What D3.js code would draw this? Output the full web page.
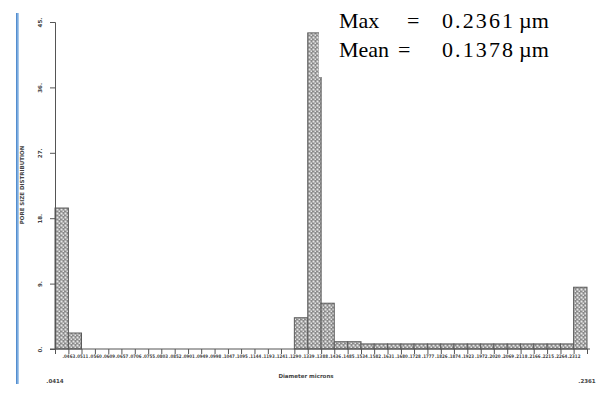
<!DOCTYPE html>
<html>
<head>
<meta charset="utf-8">
<script src="https://cdn.jsdelivr.net/npm/d3@7"></script>
<style>
  html, body { margin: 0; padding: 0; background: #fff; }
  svg { display: block; }
</style>
</head>
<body>
<div id="chart"></div>
<script>
// bin edges (microns) and counts
const binEdges = [0.0414, 0.0463, 0.0511, 0.0560, 0.0609, 0.0657, 0.0706, 0.0755, 0.0803, 0.0852,
  0.0901, 0.0949, 0.0998, 0.1047, 0.1095, 0.1144, 0.1193, 0.1241, 0.1290, 0.1339,
  0.1388, 0.1436, 0.1485, 0.1534, 0.1582, 0.1631, 0.1680, 0.1728, 0.1777, 0.1826,
  0.1874, 0.1923, 0.1972, 0.2020, 0.2069, 0.2118, 0.2166, 0.2215, 0.2264, 0.2312, 0.2361];
const counts = [19.4, 2.2, 0, 0, 0, 0, 0, 0, 0, 0,
  0, 0, 0, 0, 0, 0, 0, 0, 4.3, 43.5,
  6.3, 1.0, 1.0, 0.7, 0.7, 0.7, 0.7, 0.7, 0.7, 0.7,
  0.7, 0.7, 0.7, 0.7, 0.7, 0.7, 0.7, 0.7, 0.7, 8.5];
const yTicks = [0, 9, 18, 27, 36, 45];
const statLabels = ["Max", "Mean"];
const statNumbers = ["0.2361", "0.1378"];
const statUnit = "\u00b5m";

const width = 611, height = 394;
const svg = d3.select("#chart").append("svg")
  .attr("width", width)
  .attr("height", height);

const defs = svg.append("defs");
const pat = defs.append("pattern")
  .attr("id", "hatch")
  .attr("patternUnits", "userSpaceOnUse")
  .attr("width", 4)
  .attr("height", 4);
pat.append("rect").attr("width", 4).attr("height", 4).attr("fill", "#8a8a8a");
pat.append("rect").attr("x", 0.5).attr("y", 0.5).attr("width", 2).attr("height", 2).attr("fill", "#e6e6e6");
pat.append("rect").attr("x", 2.5).attr("y", 2.5).attr("width", 2).attr("height", 2).attr("fill", "#e6e6e6");

const blueGrad = defs.append("linearGradient").attr("id", "blue").attr("x1", 0).attr("x2", 1);
blueGrad.append("stop").attr("offset", "0%").attr("stop-color", "#3f7fc9");
blueGrad.append("stop").attr("offset", "100%").attr("stop-color", "#b9d6f2");

// left blue border
svg.append("rect")
  .attr("x", 16).attr("y", 13)
  .attr("width", 3).attr("height", 371)
  .attr("fill", "url(#blue)");

const x = d3.scaleLinear().domain([binEdges[0], binEdges[binEdges.length - 1]]).range([55, 587]);
const y = d3.scaleLinear().domain([0, 45]).range([349, 22]);
const fmt = d => d3.format(".4f")(d).replace(/^0/, "");

// bars
svg.append("g")
  .selectAll("rect")
  .data(counts.map((c, i) => ({ c, x0: binEdges[i], x1: binEdges[i + 1] })).filter(d => d.c > 0))
  .enter()
  .append("rect")
  .attr("x", d => x(d.x0))
  .attr("y", d => y(d.c))
  .attr("width", d => x(d.x1) - x(d.x0))
  .attr("height", d => y(0) - y(d.c))
  .attr("fill", "url(#hatch)")
  .attr("stroke", "#5a5a5a")
  .attr("stroke-width", 1);

// y axis
const yAxis = svg.append("g")
  .attr("transform", `translate(55,0)`)
  .call(d3.axisLeft(y).tickValues(yTicks).tickSize(5).tickFormat(d => d + "."));
yAxis.select(".domain").attr("stroke", "#555");
yAxis.selectAll(".tick line").attr("stroke", "#555");
yAxis.selectAll(".tick text")
  .attr("x", 0).attr("y", 0).attr("dy", 0)
  .attr("transform", "translate(-13,0) rotate(-90)")
  .attr("text-anchor", "middle")
  .attr("font-family", "DejaVu Sans")
  .attr("font-weight", "bold")
  .attr("font-size", 5.5)
  .attr("fill", "#444");

// x axis
const xAxis = svg.append("g")
  .attr("transform", `translate(0,349)`)
  .call(d3.axisBottom(x).tickValues(binEdges).tickSize(5)
    .tickSizeOuter(0)
    .tickFormat((d, i) => (i === 0 || i === binEdges.length - 1) ? "" : fmt(d)));
xAxis.select(".domain").attr("stroke", "#555").attr("d", `M${x.range()[0] - 5},0H${x.range()[1] + 3}`);
xAxis.selectAll(".tick line").attr("stroke", "#555");
xAxis.selectAll(".tick text")
  .attr("y", 6)
  .attr("font-family", "DejaVu Sans Condensed, DejaVu Sans")
  .attr("font-weight", "bold")
  .attr("font-size", 4.8)
  .attr("textLength", d => (d === binEdges[0] || d === binEdges[binEdges.length - 1]) ? null : 12.6)
  .attr("lengthAdjust", "spacingAndGlyphs")
  .attr("fill", "#444");

// end labels and axis titles
const small = { "font-family": "DejaVu Sans", "font-weight": "bold", "font-size": 5.5, "fill": "#444" };
function smallText(tx, ty, str, anchor, rot) {
  const t = svg.append("text")
    .attr("transform", `translate(${tx},${ty})` + (rot ? ` rotate(${rot})` : ""))
    .attr("text-anchor", anchor)
    .text(str);
  Object.entries(small).forEach(([k, v]) => t.attr(k, v));
  return t;
}
smallText(x(binEdges[0]), 383, fmt(binEdges[0]), "middle");
smallText(x(binEdges[binEdges.length - 1]), 383, fmt(binEdges[binEdges.length - 1]), "middle");
smallText(306, 378, "Diameter microns", "middle");
smallText(24, 185, "PORE SIZE DISTRIBUTION", "middle", -90);

// annotation box covering the top right
svg.append("rect")
  .attr("x", 319).attr("y", 0)
  .attr("width", 270).attr("height", 77)
  .attr("fill", "#fff");

const stats = svg.append("g")
  .attr("font-family", "Liberation Serif, Times New Roman, serif")
  .attr("font-size", 22)
  .attr("fill", "#000");
statLabels.forEach((lab, i) => {
  const by = 28 + i * 29;
  stats.append("text").attr("x", 339).attr("y", by).text(lab);
  stats.append("text").attr("x", i === 0 ? 407 : 398).attr("y", by).text("=");
  stats.append("text").attr("x", 442).attr("y", by)
    .attr("textLength", 71).attr("lengthAdjust", "spacing").text(statNumbers[i]);
  stats.append("text").attr("x", 519).attr("y", by).text(statUnit);
});
</script>
</body>
</html>
